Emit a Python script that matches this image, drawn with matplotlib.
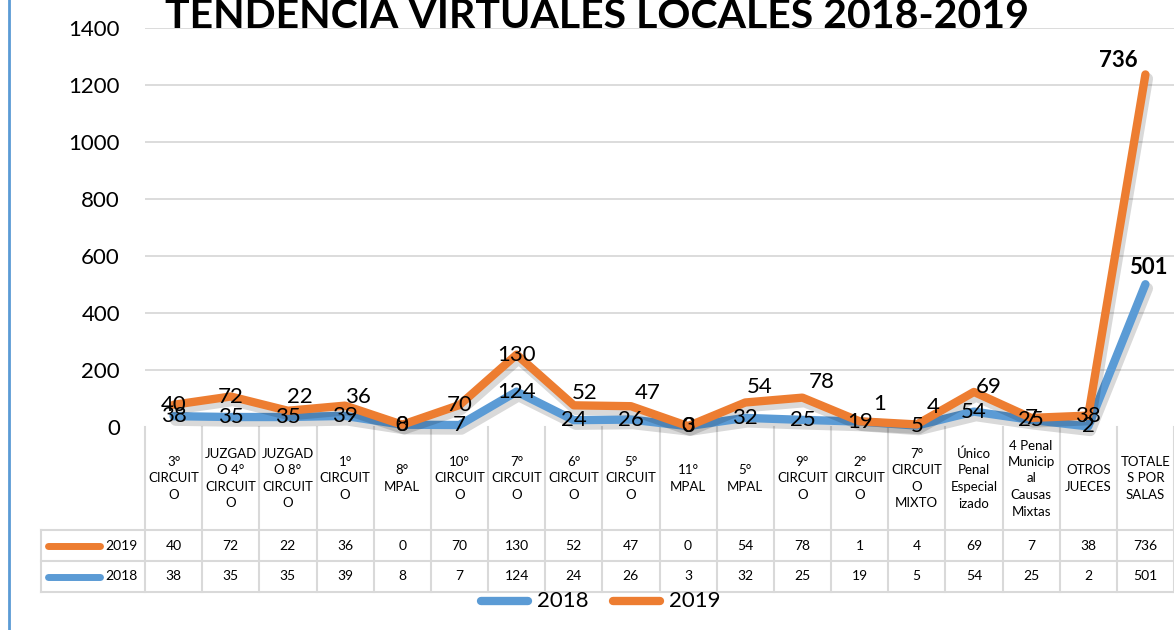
import matplotlib
matplotlib.use("Agg")
import matplotlib.pyplot as plt
import matplotlib.patheffects as pe
from matplotlib.transforms import blended_transform_factory
import numpy as np

categories = [
    "3°\nCIRCUIT\nO", "JUZGAD\nO 4°\nCIRCUIT\nO", "JUZGAD\nO 8°\nCIRCUIT\nO",
    "1°\nCIRCUIT\nO", "8°\nMPAL", "10°\nCIRCUIT\nO", "7°\nCIRCUIT\nO",
    "6°\nCIRCUIT\nO", "5°\nCIRCUIT\nO", "11°\nMPAL", "5°\nMPAL",
    "9°\nCIRCUIT\nO", "2°\nCIRCUIT\nO", "7°\nCIRCUIT\nO\nMIXTO",
    "Único\nPenal\nEspecial\nizado", "4 Penal\nMunicip\nal\nCausas\nMixtas",
    "OTROS\nJUECES", "TOTALE\nS POR\nSALAS",
]
values_2018 = [38, 35, 35, 39, 8, 7, 124, 24, 26, 3, 32, 25, 19, 5, 54, 25, 2, 501]
values_2019 = [40, 72, 22, 36, 0, 70, 130, 52, 47, 0, 54, 78, 1, 4, 69, 7, 38, 736]
series_names = ["2018", "2019"]
title = "TENDENCIA VIRTUALES LOCALES 2018-2019"
yticks = [0, 200, 400, 600, 800, 1000, 1200, 1400]

# label nudges (pixels) for the 2019 data labels, as placed in the original
label_nudge_2019 = {2: (12, 14), 3: (13, 9), 7: (11, 12), 8: (17, 13), 10: (14, 15),
                    11: (19, 16), 12: (20, 17), 13: (16, 17), 14: (15, 5)}

BLUE = "#5B9BD5"
ORANGE = "#ED7D31"
GRID = "#D9D9D9"
FONT = ["Lato", "DejaVu Sans"]
plt.rcParams["font.family"] = FONT

W, H = 1174, 630
fig = plt.figure(figsize=(W / 100, H / 100), dpi=100)

ov = fig.add_axes([0, 0, 1, 1], zorder=0)
ov.set_xlim(0, W)
ov.set_ylim(H, 0)
ov.axis("off")

x0, x1, ytop, ybot = 145, 1174, 28, 427
ax = fig.add_axes([x0 / W, 1 - ybot / H, (x1 - x0) / W, (ybot - ytop) / H], zorder=2)
ax.patch.set_alpha(0)
n = len(categories)
xs = np.arange(n) + 0.5
ax.set_xlim(0, n)
ax.set_ylim(0, 1400)
for s in ax.spines.values():
    s.set_visible(False)
ax.set_xticks([])
ax.set_yticks(yticks)
ax.set_yticklabels([str(v) for v in yticks], fontsize=16)
ax.tick_params(axis="y", length=0, pad=18)
for v in yticks[1:]:
    ax.axhline(v, color=GRID, lw=1.3, zorder=0)

v18 = np.array(values_2018)
v19 = np.array(values_2019)
stack19 = v18 + v19

shadow = [pe.SimpleLineShadow(offset=(1.5, -3), shadow_color="black", alpha=0.15, linewidth=8),
          pe.Normal()]
ax.plot(xs, v18, color=BLUE, lw=6, solid_capstyle="round", solid_joinstyle="round",
        path_effects=shadow, zorder=3, clip_on=False)
ax.plot(xs, stack19, color=ORANGE, lw=6, solid_capstyle="round", solid_joinstyle="round",
        path_effects=shadow, zorder=4, clip_on=False)

for i in range(n - 1):
    ax.annotate(str(v18[i]), (xs[i], v18[i]), ha="center", va="center", fontsize=16,
                zorder=6, annotation_clip=False)
    dx, dy = label_nudge_2019.get(i, (0, 0))
    ax.annotate(str(v19[i]), (xs[i], stack19[i]), xytext=(dx, dy), textcoords="offset pixels",
                ha="center", va="center", fontsize=16, zorder=6, annotation_clip=False)
ax.annotate(str(v18[-1]), (xs[-1], v18[-1]), xytext=(3, 17), textcoords="offset pixels",
            ha="center", va="center", fontsize=16, fontweight="bold", zorder=6, annotation_clip=False)
ax.annotate(str(v19[-1]), (xs[-1], stack19[-1]), xytext=(-27, 14), textcoords="offset pixels",
            ha="center", va="center", fontsize=16, fontweight="bold", zorder=6, annotation_clip=False)

ov.text(597, 28, title, ha="center", va="baseline", fontsize=29.5, fontweight="bold")

ov.plot([9, 9], [0, H], color=BLUE, lw=2)

bt = blended_transform_factory(ax.transData, ov.transData)
y_head_top, y_head_bot, y_mid, y_bot = 427, 530, 561, 592
for k in range(n + 1):
    ov.plot([k, k], [y_head_top, y_bot], color=GRID, lw=1.5, transform=bt, zorder=1)
for yy in [y_head_bot, y_mid, y_bot]:
    ov.plot([41, W], [yy, yy], color=GRID, lw=1.5, zorder=1)
ov.plot([41, 41], [y_head_bot, y_bot], color=GRID, lw=1.5, zorder=1)

for i, c in enumerate(categories):
    ov.text(xs[i], (y_head_top + y_head_bot) / 2, c, transform=bt, ha="center", va="center",
            fontsize=9.5, linespacing=1.45)
    ov.text(xs[i], (y_head_bot + y_mid) / 2, str(v19[i]), transform=bt, ha="center", va="center",
            fontsize=10)
    ov.text(xs[i], (y_mid + y_bot) / 2, str(v18[i]), transform=bt, ha="center", va="center",
            fontsize=10)

for yy, name, col in [((y_head_bot + y_mid) / 2, series_names[1], ORANGE),
                      ((y_mid + y_bot) / 2, series_names[0], BLUE)]:
    ov.plot([48, 100], [yy, yy], color=col, lw=5, solid_capstyle="round")
    ov.text(138, yy, name, ha="right", va="center", fontsize=10)

ly = 601
ov.plot([481, 528], [ly, ly], color=BLUE, lw=6, solid_capstyle="round")
ov.text(537, ly, series_names[0], ha="left", va="center", fontsize=16)
ov.plot([613, 660], [ly, ly], color=ORANGE, lw=6, solid_capstyle="round")
ov.text(669, ly, series_names[1], ha="left", va="center", fontsize=16)

fig.savefig("out.png", dpi=100)
